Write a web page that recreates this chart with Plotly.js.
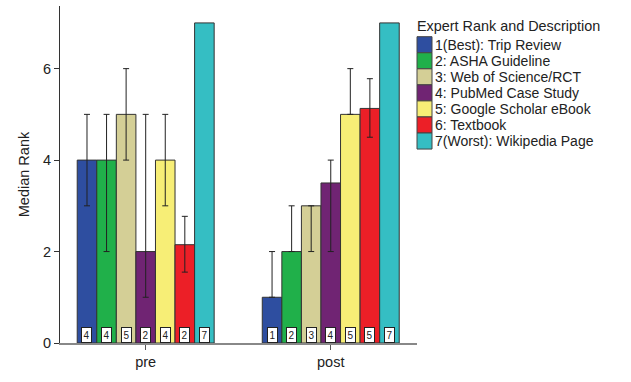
<!DOCTYPE html>
<html><head><meta charset="utf-8">
<script src="https://cdn.plot.ly/plotly-3.0.1.min.js"></script>
<style>body{margin:0;background:#fff}#c{width:631px;height:382px}</style>
</head><body><div id="c"></div>
<script>
const groups = ["pre", "post"];
const seriesNames = ["1(Best): Trip Review", "2: ASHA Guideline", "3: Web of Science/RCT", "4: PubMed Case Study", "5: Google Scholar eBook", "6: Textbook", "7(Worst): Wikipedia Page"];
const colors = ["#2E4EA0", "#20B04A", "#D4CF96", "#702473", "#F7EE76", "#EC1F27", "#35BEC3"];
// median rank per series: [pre, post]
const medians = [[4, 1], [4, 2], [5, 3], [2, 3.5], [4, 5], [2.15, 5.13], [7, 7]];
const errUpper = [[5, 2], [5, 3], [6, 3], [5, 4], [5, 6], [2.77, 5.78], [7, 7]];
const errLower = [[3, 1], [2, 2], [4, 2], [1, 2], [3, 5], [1.55, 4.5], [7, 7]];
const countLabels = [["4", "1"], ["4", "2"], ["5", "3"], ["2", "4"], ["4", "5"], ["2", "5"], ["7", "7"]];
const legendTitle = "Expert Rank and Description";

const FONT = "Liberation Sans, Arial, sans-serif";
const traces = seriesNames.map((name, i) => {
  const hasErr = medians[i].some((m, j) => errUpper[i][j] !== m || errLower[i][j] !== m);
  return {
    type: "bar", name: name, x: groups, y: medians[i],
    marker: {color: colors[i], line: {color: "#333", width: 1}},
    error_y: {type: "data", symmetric: false, visible: hasErr,
      array: medians[i].map((m, j) => errUpper[i][j] - m),
      arrayminus: medians[i].map((m, j) => m - errLower[i][j]),
      color: "#222", thickness: 1, width: 3},
    showlegend: false, hoverinfo: "skip"
  };
});

const bargap = 0.26;
const nS = seriesNames.length;
const w = (1 - bargap) / nS;
const annotations = [];
const shapes = [];
countLabels.forEach((lab, i) => {
  lab.forEach((t, j) => {
    annotations.push({x: j + (i - (nS - 1) / 2) * w, y: 0.18, xref: "x", yref: "y",
      text: t, showarrow: false, bgcolor: "#fff", bordercolor: "#222", borderwidth: 1,
      borderpad: 1.5, font: {family: FONT, size: 10, color: "#222"}});
  });
});

// custom legend (pixel offsets from the top-right corner of the plot area)
const rowH = 16.05, firstTop = 30.7, swW = 15;
annotations.push({xref: "paper", yref: "paper", x: 1, y: 1, xanchor: "left", yanchor: "middle",
  xshift: -2, yshift: -20, text: legendTitle, showarrow: false,
  font: {family: FONT, size: 14.4, color: "#222"}});
seriesNames.forEach((name, i) => {
  const top = firstTop + rowH * i, bot = top + rowH;
  shapes.push({type: "rect", xref: "paper", yref: "paper", xsizemode: "pixel", ysizemode: "pixel",
    xanchor: 1, yanchor: 1, x0: 0, x1: swW, y0: -top, y1: -bot,
    fillcolor: colors[i], line: {color: "#444", width: 1}});
  annotations.push({xref: "paper", yref: "paper", x: 1, y: 1, xanchor: "left", yanchor: "middle",
    xshift: swW + 1, yshift: -(top + rowH / 2), text: name, showarrow: false,
    font: {family: FONT, size: 14, color: "#222"}});
});

const layout = {
  width: 631, height: 382,
  margin: {l: 60, r: 214, t: 6, b: 39},
  paper_bgcolor: "#fff", plot_bgcolor: "#fff",
  font: {family: FONT, color: "#222"},
  barmode: "group", bargap: bargap, bargroupgap: 0,
  showlegend: false,
  xaxis: {range: [-0.463, 1.466], showline: true, linecolor: "#888", linewidth: 1.5,
    ticks: "outside", ticklen: 5, tickcolor: "#555", showgrid: false, zeroline: false,
    tickfont: {size: 14.5}},
  yaxis: {range: [0, 7.37], showline: true, linecolor: "#333", linewidth: 1,
    ticks: "outside", ticklen: 5, tickcolor: "#333", tickvals: [0, 2, 4, 6],
    showgrid: false, zeroline: false, tickfont: {size: 14.5},
    title: {text: "Median Rank", font: {size: 14.5}, standoff: 9}},
  annotations: annotations, shapes: shapes
};
Plotly.newPlot("c", traces, layout, {displayModeBar: false, staticPlot: true});
</script></body></html>
